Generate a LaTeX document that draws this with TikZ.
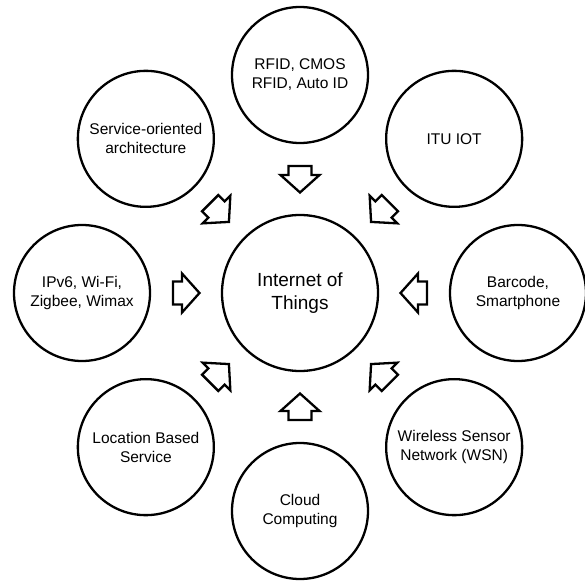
\documentclass[tikz,border=0pt]{standalone}
\usepackage{fontspec}
\setmainfont{Liberation Sans}
\usetikzlibrary{calc}

\tikzset{
  x=1pt, y=1pt,
  hubcircle/.style={circle, draw, line width=2.3pt, minimum size=156pt, inner sep=0pt,
    align=center, font=\fontsize{19}{23}\selectfont},
  topiccircle/.style={circle, draw, line width=2.3pt, minimum size=136pt, inner sep=0pt,
    align=center, font=\fontsize{15.5}{19}\selectfont},
  arrowline/.style={draw, line width=2.3pt, line join=miter, fill=white},
  % hollow block arrow pointing along +x, centred on the origin
  blockarrow/.pic={
    \path[arrowline] (-13,11.5) -- (-4,11.5) -- (-4,19.5) -- (13.5,0)
      -- (-4,-19.5) -- (-4,-11.5) -- (-13,-11.5) -- cycle;
  }
}

\begin{document}
\begin{tikzpicture}
  \useasboundingbox (-300,-287) rectangle (285,293);

  \node[hubcircle] (hub) at (0,0) {Internet of\\Things};

  \foreach \ang/\id/\txt in {
      90/rfid/{RFID, CMOS\\RFID, Auto ID},
      45/itu/{ITU IOT},
      0/barcode/{Barcode,\\Smartphone},
      -45/wsn/{Wireless Sensor\\Network (WSN)},
      -90/cloud/{Cloud\\Computing},
      -135/lbs/{Location Based\\Service},
      180/ipv6/{IPv6, Wi-Fi,\\Zigbee, Wimax},
      135/soa/{Service-oriented\\architecture}} {
    \node[topiccircle] (\id) at (\ang:218) {\txt};
    \pic[rotate=\ang+180] at ($(hub)!0.523!(\id)$) {blockarrow};
  }
\end{tikzpicture}
\end{document}
